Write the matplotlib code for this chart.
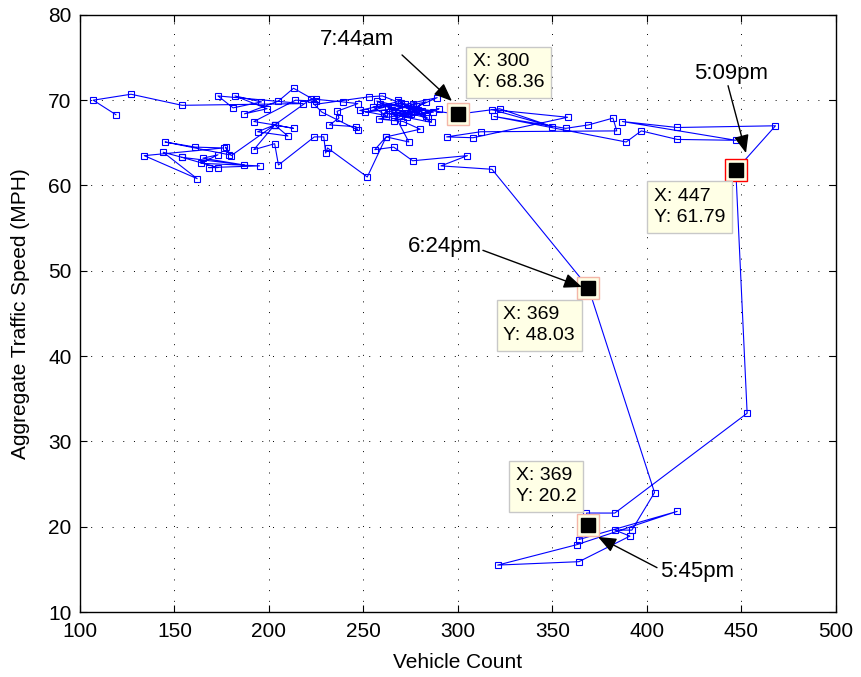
import matplotlib
matplotlib.use('Agg')
import matplotlib.pyplot as plt

plt.rcParams['font.family'] = ['Liberation Sans', 'DejaVu Sans']

# vehicle count / aggregate speed, in time order
count = [119, 107, 127, 154, 218, 173, 181, 196, 182, 199, 187, 205, 213, 225, 214,
         192, 203, 213, 203, 210, 194, 203, 222, 225, 239, 247, 236, 237, 232, 246,
         247, 228, 224, 253, 260, 268, 248, 262, 255, 272, 289, 276, 266, 281, 258,
         271, 280, 262, 274, 265, 283, 269, 287,
         259, 275, 263, 284, 270, 251, 278, 266, 290, 273, 257, 279, 268, 286, 261,
         276, 283, 272, 300,
         322, 350, 318, 358, 308, 294, 312, 384, 382, 369, 357, 319, 389, 397, 416,
         447, 387, 416, 468, 447,
         453, 383, 368, 369, 364, 416, 363, 321, 364, 391, 383, 392, 404, 369,
         318, 291, 305, 276, 266, 256, 262, 252, 231, 230, 229, 224, 205, 203, 192,
         203, 180, 177, 179, 145, 161, 176, 134, 162, 144, 154, 187, 165, 173, 164,
         195, 168, 173, 154]
speed = [68.3, 70.0, 70.7, 69.4, 69.6, 70.5, 69.1, 69.8, 70.5, 69.0, 68.4, 69.9, 71.4, 69.9, 70.0,
         67.5, 67.1, 66.7, 67.1, 65.8, 66.3, 67.1, 70.1, 70.1, 69.8, 69.6, 68.7, 67.9, 67.1, 66.9,
         66.5, 68.6, 69.5, 70.4, 70.5, 69.8, 68.8, 68.2, 69.2, 69.5, 70.3, 69.0, 68.3, 68.7, 67.8,
         67.5, 66.6, 65.7, 65.1, 68.9, 69.8, 68.1, 68.6,
         69.6, 68.4, 69.1, 67.9, 69.7, 68.6, 69.3, 67.6, 69.0, 68.0, 69.9, 68.8, 70.0, 67.4, 68.5,
         69.5, 68.2, 69.2, 68.36,
         69.0, 66.9, 68.9, 68.0, 65.6, 65.7, 66.3, 66.4, 67.9, 67.1, 66.7, 68.1, 65.1, 66.4, 65.4,
         65.3, 67.5, 66.8, 67.0, 61.79,
         33.3, 21.6, 21.6, 20.2, 18.5, 21.8, 17.9, 15.5, 15.9, 18.9, 19.6, 19.6, 24.0, 48.03,
         61.9, 62.3, 63.5, 62.9, 64.5, 64.2, 65.7, 61.0, 64.4, 63.8, 65.7, 65.7, 62.4, 64.9, 64.2,
         67.1, 63.5, 64.5, 63.6, 65.1, 64.5, 64.4, 63.5, 60.8, 63.9, 63.3, 62.4, 63.2, 63.6, 62.6,
         62.3, 62.1, 62.1, 63.3]

# data tips
tip_x = [300, 447, 369, 369]
tip_y = [68.36, 61.79, 48.03, 20.2]
tip_edge = ['#f4b6a8', '#ff0000', '#f4b6a8', '#f4b6a8']
tip_box = [(308.0, 73.26), (403.5, 57.49), (324.0, 43.6), (330.5, 24.72)]

# time labels: text, text position, arrow tail, arrow tip
labels = ['7:44am', '5:09pm', '6:24pm', '5:45pm']
label_pos = [(246.6, 77.1), (444.4, 73.1), (293.1, 52.9), (426.4, 14.8)]
arrow_tail = [(270.4, 75.3), (442.9, 71.7), (313.2, 52.4), (405.3, 15.2)]
arrow_tip = [(296.8, 69.9), (452.4, 63.8), (365.6, 48.1), (374.1, 18.8)]

fig = plt.figure(figsize=(8.62, 6.77), dpi=100)
ax = fig.add_axes([0.0928, 0.096, 0.877, 0.882])

ax.plot(count, speed, '-s', color='b', lw=0.8, ms=4, mfc='none', mec='b', mew=0.8)

for x, y, ec in zip(tip_x, tip_y, tip_edge):
    ax.plot(x, y, 's', ms=16, mfc='#ffffe6', mec=ec, mew=1.0, zorder=5)
    ax.plot(x, y, 's', ms=10, mfc='k', mec='k', zorder=6)

for (bx, by), x, y in zip(tip_box, tip_x, tip_y):
    ax.text(bx, by, 'X: %g\nY: %g' % (x, y), fontsize=14, ha='left', va='center',
            linespacing=1.3, zorder=7,
            bbox=dict(boxstyle='square,pad=0.35', fc='#ffffe6', ec='#c8c8c8', lw=1))

for lab, pos, tail, tip in zip(labels, label_pos, arrow_tail, arrow_tip):
    ax.text(pos[0], pos[1], lab, fontsize=16, ha='center', va='center', zorder=8)
    ax.annotate('', xy=tip, xytext=tail, zorder=8,
                arrowprops=dict(arrowstyle='-|>,head_length=1.1,head_width=0.45',
                                color='k', lw=1.0, shrinkA=0, shrinkB=0))

ax.set_xlim(100, 500)
ax.set_ylim(10, 80)
ax.set_xticks(range(100, 501, 50))
ax.set_yticks(range(10, 81, 10))
ax.grid(True, color='k', linestyle=(0, (1, 10)), lw=0.7)
ax.tick_params(direction='in', top=True, right=True, labelsize=15, length=5)
ax.tick_params(axis='x', pad=7)
ax.tick_params(axis='y', pad=6)
for s in ax.spines.values():
    s.set_linewidth(1.0)
ax.set_xlabel('Vehicle Count', fontsize=15, labelpad=9)
ax.set_ylabel('Aggregate Traffic Speed (MPH)', fontsize=15, labelpad=13)

fig.savefig('out.png', dpi=100)
